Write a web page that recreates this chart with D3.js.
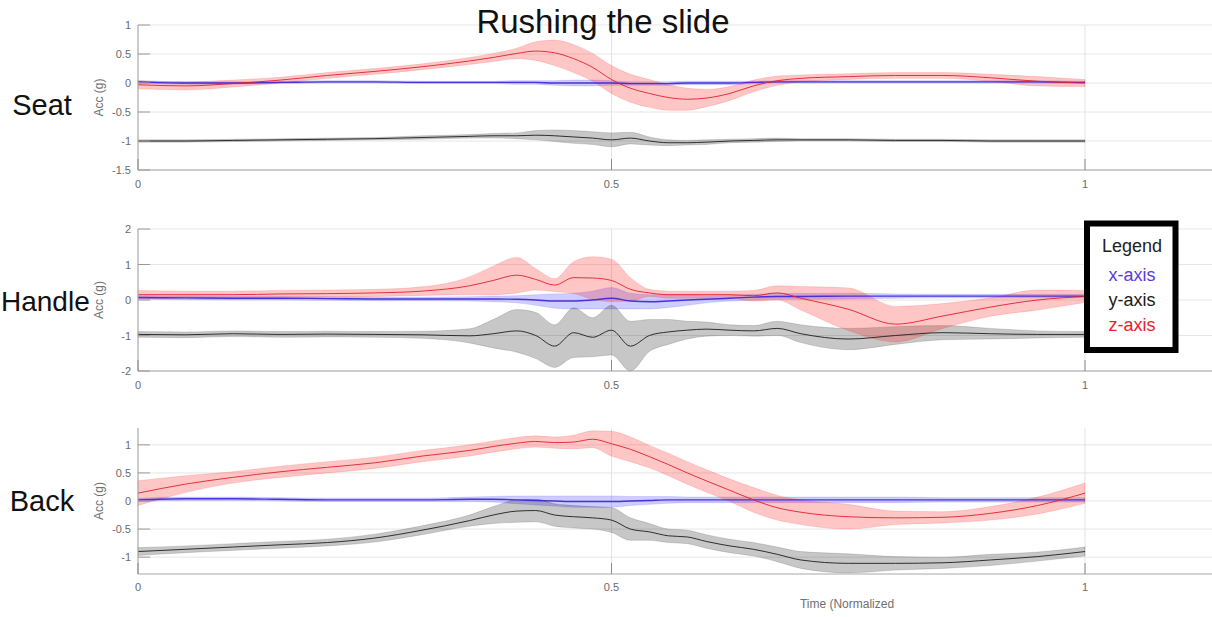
<!DOCTYPE html>
<html><head><meta charset="utf-8">
<script src="https://cdn.jsdelivr.net/npm/d3@7"></script>
<style>
html,body{margin:0;padding:0;background:#fff;overflow:hidden}
svg{display:block;font-family:"Liberation Sans",Arial,Helvetica,sans-serif}
</style></head><body>
<svg id="chart" width="1212" height="617"></svg>
<script>
// ---------- DATA ----------
const title = "Rushing the slide";
const panelNames = ["Seat", "Handle", "Back"];
const xTicks = [0, 0.5, 1];
const xTickLabels = ["0", "0.5", "1"];
const seatYTicks = [-1.5, -1, -0.5, 0, 0.5, 1];
const handleYTicks = [-2, -1, 0, 1, 2];
const backYTicks = [-1, -0.5, 0, 0.5, 1];
const legendItems = ["x-axis", "y-axis", "z-axis"];

const timePoints = [0, .05, .1, .15, .2, .25, .3, .35, .375, .4, .42, .44, .46, .48, .5, .52, .54, .56, .58, .6, .625, .65, .675, .7, .75, .8, .85, .9, .95, 1];

// Seat
const seatXMean = [0.02,0.0,0.0,0.01,0.02,0.02,0.01,0.01,0.01,0.01,0.01,0.0,0.0,0.0,0.0,-0.01,-0.01,-0.01,0.0,0.0,0.0,0.01,0.02,0.02,0.02,0.02,0.02,0.02,0.02,0.01];
const seatXSd   = [0.02,0.02,0.02,0.02,0.02,0.02,0.02,0.02,0.02,0.03,0.03,0.04,0.05,0.05,0.04,0.03,0.03,0.03,0.03,0.03,0.03,0.02,0.02,0.02,0.02,0.02,0.02,0.02,0.02,0.02];
const seatYMean = [-1.0,-1.0,-0.99,-0.98,-0.97,-0.96,-0.94,-0.92,-0.91,-0.91,-0.9,-0.91,-0.93,-0.95,-0.98,-0.95,-1.0,-1.03,-1.03,-1.02,-1.0,-0.99,-0.98,-0.98,-0.98,-0.99,-0.99,-1.0,-1.0,-1.0];
const seatYSd   = [0.02,0.02,0.02,0.02,0.02,0.02,0.03,0.03,0.04,0.05,0.08,0.1,0.11,0.11,0.12,0.1,0.07,0.05,0.04,0.04,0.03,0.03,0.03,0.02,0.02,0.02,0.02,0.02,0.02,0.02];
const seatZMean = [-0.03,-0.05,-0.01,0.05,0.13,0.2,0.28,0.38,0.44,0.51,0.55,0.52,0.42,0.27,0.06,-0.09,-0.18,-0.25,-0.28,-0.26,-0.18,-0.05,0.04,0.08,0.11,0.13,0.13,0.09,0.03,0.0];
const seatZSd   = [0.07,0.07,0.06,0.05,0.05,0.05,0.05,0.06,0.07,0.09,0.16,0.22,0.24,0.24,0.24,0.24,0.24,0.22,0.19,0.15,0.12,0.1,0.08,0.06,0.05,0.05,0.05,0.06,0.08,0.06];

// Handle
const handleXMean = [0.07,0.06,0.05,0.05,0.04,0.03,0.03,0.03,0.03,0.02,0.0,-0.03,-0.03,0.0,0.05,-0.03,-0.05,-0.03,0.0,0.02,0.05,0.08,0.1,0.1,0.11,0.11,0.11,0.11,0.11,0.11];
const handleXSd   = [0.05,0.05,0.05,0.05,0.05,0.05,0.05,0.06,0.08,0.1,0.15,0.2,0.22,0.25,0.3,0.22,0.2,0.18,0.15,0.1,0.08,0.08,0.08,0.08,0.08,0.06,0.05,0.05,0.05,0.05];
const handleYMean = [-0.97,-0.98,-0.95,-0.97,-0.96,-0.97,-0.98,-1.01,-0.95,-0.87,-1.0,-1.3,-0.92,-1.05,-0.85,-1.3,-1.0,-0.9,-0.85,-0.82,-0.85,-0.87,-0.8,-0.95,-1.1,-1.0,-0.92,-0.95,-0.97,-0.97];
const handleYSd   = [0.08,0.08,0.08,0.08,0.08,0.08,0.1,0.2,0.4,0.6,0.65,0.6,0.7,0.55,0.7,0.7,0.45,0.35,0.25,0.2,0.15,0.15,0.2,0.25,0.3,0.25,0.2,0.15,0.1,0.08];
const handleZMean = [0.15,0.15,0.15,0.17,0.18,0.2,0.25,0.4,0.55,0.7,0.58,0.42,0.63,0.62,0.55,0.3,0.2,0.15,0.15,0.15,0.15,0.12,0.2,0.05,-0.26,-0.68,-0.45,-0.2,0.0,0.1];
const handleZSd   = [0.12,0.1,0.1,0.1,0.1,0.1,0.12,0.25,0.4,0.5,0.3,0.18,0.45,0.6,0.6,0.33,0.1,0.1,0.1,0.1,0.1,0.15,0.2,0.33,0.6,0.5,0.35,0.26,0.28,0.17];

// Back
const backXMean = [0.02,0.04,0.04,0.03,0.02,0.02,0.02,0.03,0.03,0.02,0.01,0.0,-0.01,-0.01,-0.01,0.0,0.01,0.02,0.02,0.02,0.02,0.02,0.02,0.02,0.02,0.02,0.02,0.02,0.02,0.02];
const backXSd   = [0.03,0.03,0.03,0.03,0.03,0.03,0.03,0.04,0.05,0.07,0.08,0.09,0.1,0.1,0.1,0.08,0.07,0.06,0.05,0.05,0.05,0.05,0.05,0.05,0.05,0.05,0.04,0.04,0.04,0.04];
const backYMean = [-0.9,-0.86,-0.82,-0.78,-0.74,-0.66,-0.52,-0.35,-0.25,-0.18,-0.17,-0.25,-0.28,-0.3,-0.34,-0.5,-0.55,-0.62,-0.64,-0.72,-0.8,-0.86,-0.95,-1.05,-1.11,-1.11,-1.1,-1.05,-0.99,-0.9];
const backYSd   = [0.07,0.06,0.06,0.06,0.06,0.07,0.08,0.1,0.15,0.2,0.2,0.2,0.2,0.2,0.22,0.2,0.15,0.12,0.12,0.12,0.12,0.12,0.13,0.15,0.17,0.12,0.1,0.1,0.08,0.08];
const backZMean = [0.14,0.3,0.42,0.52,0.6,0.68,0.8,0.9,0.97,1.03,1.06,1.04,1.05,1.1,1.02,0.92,0.79,0.65,0.5,0.36,0.19,0.02,-0.12,-0.2,-0.28,-0.3,-0.29,-0.22,-0.08,0.14];
const backZSd   = [0.22,0.15,0.1,0.1,0.1,0.1,0.1,0.1,0.1,0.1,0.1,0.1,0.12,0.15,0.22,0.22,0.2,0.2,0.2,0.2,0.2,0.22,0.22,0.22,0.22,0.12,0.1,0.12,0.15,0.18];

// ---------- LAYOUT ----------
const svg = d3.select("#chart");
const W = 1212;
const x = d3.scaleLinear().domain([0, 1]).range([138, 1085]);
const xEnd = x.invert(W + 2);

const panels = [
  {name: panelNames[0], domain: [-1.5, 1], range: [170, 25], ticks: seatYTicks,
   series: [[seatXMean, seatXSd], [seatYMean, seatYSd], [seatZMean, seatZSd]], labelY: 115, xLabY: 188, labelX: 42, anchor: "middle", fs: 29},
  {name: panelNames[1], domain: [-2, 2], range: [371, 229], ticks: handleYTicks,
   series: [[handleXMean, handleXSd], [handleYMean, handleYSd], [handleZMean, handleZSd]], labelY: 311, xLabY: 389, labelX: 1, anchor: "start", fs: 28},
  {name: panelNames[2], domain: [-1.3, 1.3], range: [574, 428], ticks: backYTicks,
   series: [[backXMean, backXSd], [backYMean, backYSd], [backZMean, backZSd]], labelY: 511, xLabY: 591, labelX: 42, anchor: "middle", fs: 29}
];

const lineColors = ["#3a22d8", "#1e1e1e", "#e0202c"];
const bandColors = ["#4a4aff", "#000000", "#ff1a1a"];
const bandOpac = [0.28, 0.22, 0.25];

panels.forEach((p, pi) => {
  const y = d3.scaleLinear().domain(p.domain).range(p.range);
  const g = svg.append("g");

  g.selectAll("line.hg").data(p.ticks).enter().append("line")
    .attr("x1", x(0)).attr("x2", x(xEnd))
    .attr("y1", d => y(d)).attr("y2", d => y(d))
    .attr("stroke", "#e6e6e6").attr("stroke-width", 1);
  g.selectAll("line.vg").data(xTicks.filter(d => d > 0)).enter().append("line")
    .attr("x1", d => x(d)).attr("x2", d => x(d))
    .attr("y1", y(p.domain[0])).attr("y2", y(p.domain[1]))
    .attr("stroke", "#e3e3e3").attr("stroke-width", 1);

  const pts = (m, s) => timePoints.map((t, i) => ({t, m: m[i], s: s[i]}));
  const area = d3.area().curve(d3.curveMonotoneX)
    .x(d => x(d.t)).y0(d => y(d.m - d.s)).y1(d => y(d.m + d.s));
  const line = d3.line().curve(d3.curveMonotoneX)
    .x(d => x(d.t)).y(d => y(d.m));
  p.series.forEach(([m, s], si) => {
    g.append("path").datum(pts(m, s)).attr("d", area)
      .attr("fill", bandColors[si]).attr("fill-opacity", bandOpac[si])
      .attr("stroke", bandColors[si]).attr("stroke-opacity", bandOpac[si] * 0.6).attr("stroke-width", 1);
  });
  p.series.forEach(([m, s], si) => {
    g.append("path").datum(pts(m, s)).attr("d", line)
      .attr("fill", "none").attr("stroke", lineColors[si])
      .attr("stroke-width", si === 0 ? 1.4 : 1).attr("stroke-opacity", 0.9);
  });

  g.append("line").attr("x1", x(0)).attr("x2", x(0))
    .attr("y1", y(p.domain[0])).attr("y2", y(p.domain[1]))
    .attr("stroke", "#a8a8a8").attr("stroke-width", 1.2);
  g.append("line").attr("x1", x(0)).attr("x2", x(xEnd))
    .attr("y1", y(p.domain[0])).attr("y2", y(p.domain[0]))
    .attr("stroke", "#a8a8a8").attr("stroke-width", 1.2);
  g.selectAll("line.yt").data(p.ticks).enter().append("line")
    .attr("x1", x(0)).attr("x2", x(0) + 12)
    .attr("y1", d => y(d)).attr("y2", d => y(d))
    .attr("stroke", "#9a9a9a").attr("stroke-width", 1);
  g.selectAll("text.yl").data(p.ticks).enter().append("text")
    .attr("x", x(0) - 7).attr("y", d => y(d) + 4)
    .attr("text-anchor", "end").attr("font-size", 11).attr("fill", "#6a6a6a")
    .text(d => String(d));
  g.selectAll("line.xt").data(xTicks).enter().append("line")
    .attr("x1", d => x(d)).attr("x2", d => x(d))
    .attr("y1", y(p.domain[0])).attr("y2", y(p.domain[0]) - 11)
    .attr("stroke", "#8a8a8a").attr("stroke-width", 1);
  g.selectAll("text.xl").data(xTicks).enter().append("text")
    .attr("x", d => x(d)).attr("y", p.xLabY)
    .attr("text-anchor", "middle").attr("font-size", 11).attr("fill", "#6a6a6a")
    .text((d, i) => xTickLabels[i]);

  const cy = (p.range[0] + p.range[1]) / 2;
  g.append("text").attr("transform", `translate(103,${cy}) rotate(-90)`)
    .attr("text-anchor", "middle").attr("font-size", 12).attr("fill", "#707070")
    .text("Acc (g)");
  g.append("text").attr("x", p.labelX).attr("y", p.labelY)
    .attr("text-anchor", p.anchor).attr("font-size", p.fs).attr("fill", "#111")
    .text(p.name);
});

svg.append("text").attr("x", 603).attr("y", 33).attr("text-anchor", "middle")
  .attr("font-size", 33).attr("fill", "#111").text(title);

svg.append("text").attr("x", 847).attr("y", 608).attr("text-anchor", "middle")
  .attr("font-size", 12).attr("fill", "#707070").text("Time (Normalized");

const lg = svg.append("g");
lg.append("rect").attr("x", 1087).attr("y", 223.5).attr("width", 88.5).attr("height", 126.5)
  .attr("fill", "#fff").attr("stroke", "#000").attr("stroke-width", 6);
lg.append("text").attr("x", 1132).attr("y", 252).attr("text-anchor", "middle")
  .attr("font-size", 18).attr("fill", "#222").text("Legend");
const legendColors = ["#5a3ee0", "#1a1a1a", "#e8232d"];
lg.selectAll("text.li").data(legendItems).enter().append("text")
  .attr("x", 1132).attr("y", (d, i) => 281 + i * 25).attr("text-anchor", "middle")
  .attr("font-size", 18).attr("fill", (d, i) => legendColors[i]).text(d => d);
</script>
</body></html>
